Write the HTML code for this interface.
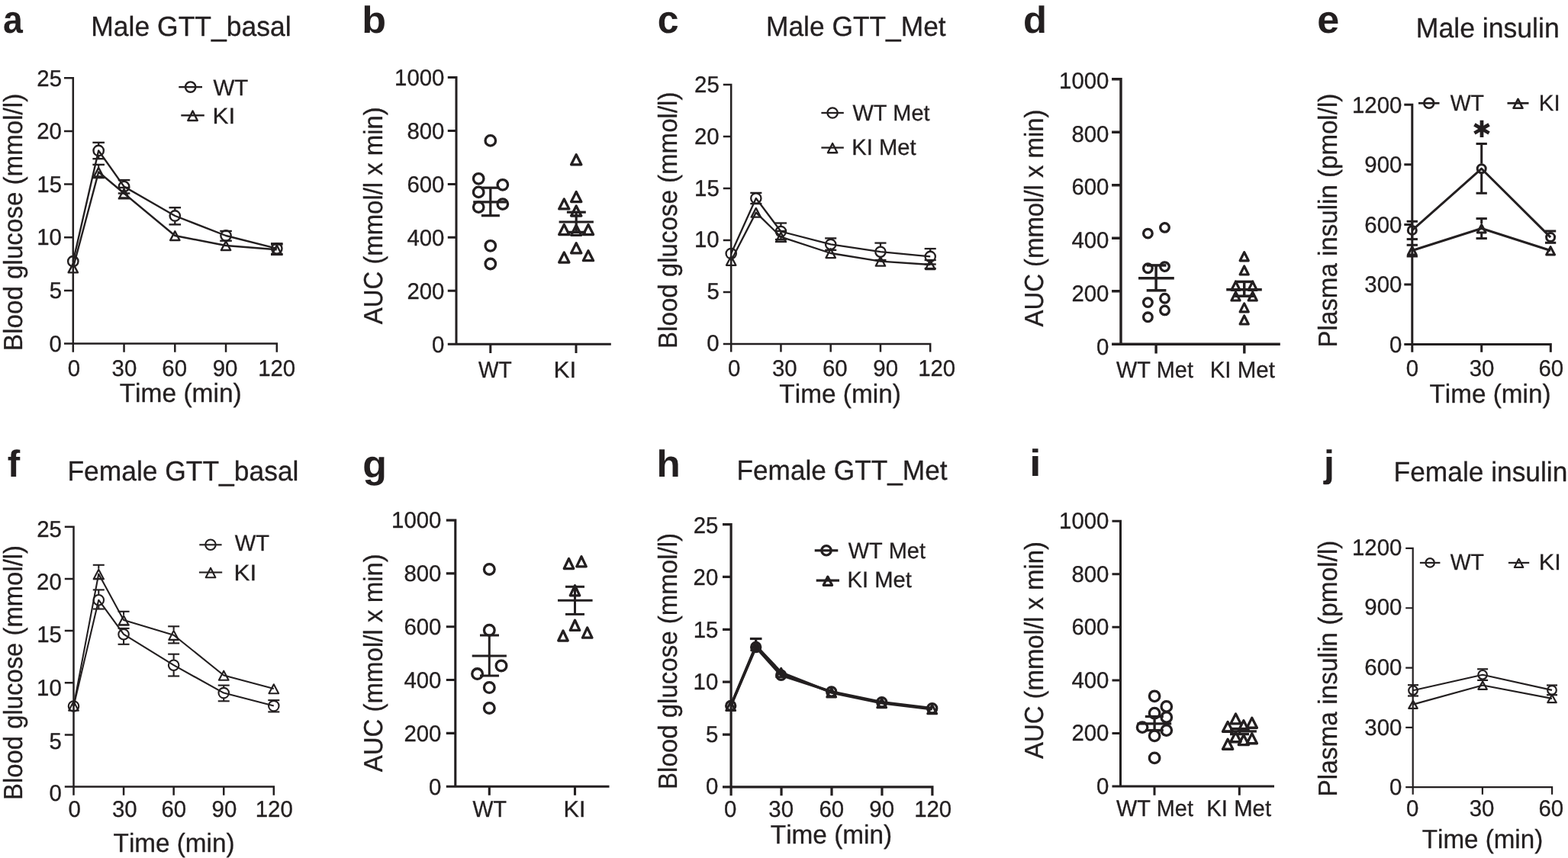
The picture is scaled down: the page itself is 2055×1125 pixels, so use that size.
<!DOCTYPE html>
<html lang="en">
<head>
<meta charset="utf-8">
<title>GTT and insulin in WT and KI mice</title>
<style>
html,body{margin:0;padding:0;background:#fff}
body{width:2055px;height:1125px;overflow:hidden}
svg{display:block}
svg text{font-family:"Liberation Sans",sans-serif;fill:#231f20;stroke:#231f20;stroke-width:.32px;stroke-linejoin:round;font-kerning:none;white-space:pre}
svg text[font-weight=bold]{stroke-width:0}
svg path,svg circle{fill:none;stroke:#231f20;stroke-linecap:butt}
svg path.t{stroke-linejoin:round}
</style>
</head>
<body>
<svg width="2055" height="1125" viewBox="0 0 2055 1125" text-rendering="geometricPrecision">
<rect width="2055" height="1125" fill="#fff" stroke="none"/>
<g id="panel-a">
<text transform="translate(5.4 42.8) scale(0.9192 1)" x="-1.48" y="0" font-size="50.6" font-weight="bold">a</text>
<text transform="translate(122.1 46.6) scale(0.9783 1)" x="-2.98" y="0" font-size="36.3">Male GTT_basal</text>
<path d="M84 102.3H95.8V461.7M84 171.96H95.8M84 241.62H95.8M84 311.28H95.8M84 380.94H95.8M84 450.6H362.8V461.7M162.55 450.6V461.7M229.3 450.6V461.7M296.05 450.6V461.7" stroke-width="2.5" stroke-linejoin="miter"/>
<text transform="translate(49.81 112.7) scale(0.9800 1)" x="-1.51" y="0" font-size="30">25</text>
<text transform="translate(49.73 182.28) scale(0.9800 1)" x="-1.51" y="0" font-size="30">20</text>
<text transform="translate(50.57 251.86) scale(0.9800 1)" x="-2.29" y="0" font-size="30">15</text>
<text transform="translate(50.49 321.44) scale(0.9800 1)" x="-2.29" y="0" font-size="30">10</text>
<text transform="translate(65.86 391.02) scale(0.9800 1)" x="-1.2" y="0" font-size="30">5</text>
<text transform="translate(65.75 460.6) scale(0.9800 1)" x="-1.17" y="0" font-size="30">0</text>
<text transform="translate(89.77 492.5) scale(0.9800 1)" x="-1.17" y="0" font-size="30">0</text>
<text transform="translate(147.68 492.5) scale(0.9800 1)" x="-1.14" y="0" font-size="30">30</text>
<text transform="translate(213.77 492.5) scale(0.9800 1)" x="-1.52" y="0" font-size="30">60</text>
<text transform="translate(280.01 492.5) scale(0.9800 1)" x="-1.41" y="0" font-size="30">90</text>
<text transform="translate(340.37 492.5) scale(0.9800 1)" x="-2.29" y="0" font-size="30">120</text>
<text transform="translate(157.4 527.2) scale(0.9688 1)" x="-0.78" y="0" font-size="34.6">Time (min)</text>
<text transform="translate(29.4 457.2) rotate(-90) scale(0.9587 1)" x="-2.84" y="0" font-size="34.6">Blood glucose (mmol/l)</text>
<path d="M129.18 186.9V190.1" stroke-width="2.4"/>
<path d="M121.38 186.9H136.98" stroke-width="2.4"/>
<path d="M129.18 204.9V208.2" stroke-width="2.4"/>
<path d="M121.38 208.2H136.98" stroke-width="2.4"/>
<path d="M162.55 236.1V237.2" stroke-width="2.4"/>
<path d="M154.75 236.1H170.35" stroke-width="2.4"/>
<path d="M162.55 252V253.5" stroke-width="2.4"/>
<path d="M154.75 253.5H170.35" stroke-width="2.4"/>
<path d="M229.3 272.2V275.6" stroke-width="2.4"/>
<path d="M221.5 272.2H237.1" stroke-width="2.4"/>
<path d="M229.3 290.4V294.4" stroke-width="2.4"/>
<path d="M221.5 294.4H237.1" stroke-width="2.4"/>
<path d="M288.25 303H303.85" stroke-width="2.4"/>
<path d="M288.25 315.7H303.85" stroke-width="2.4"/>
<path d="M355 319.3H370.6" stroke-width="2.4"/>
<path d="M355 333H370.6" stroke-width="2.4"/>
<circle cx="95.8" cy="342.7" r="6.7" stroke-width="2.4"/>
<circle cx="129.18" cy="197.5" r="6.7" stroke-width="2.4"/>
<circle cx="162.55" cy="244.6" r="6.7" stroke-width="2.4"/>
<circle cx="229.3" cy="283" r="6.7" stroke-width="2.4"/>
<circle cx="296.05" cy="309" r="6.7" stroke-width="2.4"/>
<circle cx="362.8" cy="325.9" r="6.7" stroke-width="2.4"/>
<path d="M95.8 342.7L129.18 197.5L162.55 244.6L229.3 283L296.05 309L362.8 325.9" stroke-width="2.4" stroke-linejoin="round"/>
<path d="M129.18 215.9V218.75" stroke-width="2.4"/>
<path d="M121.38 215.9H136.98" stroke-width="2.4"/>
<path d="M129.18 232.25V233.1" stroke-width="2.4"/>
<path d="M121.38 233.1H136.98" stroke-width="2.4"/>
<path d="M162.55 246V246.75" stroke-width="2.4"/>
<path d="M154.75 246H170.35" stroke-width="2.4"/>
<path d="M162.55 260.25V260.3" stroke-width="2.4"/>
<path d="M154.75 260.3H170.35" stroke-width="2.4"/>
<path d="M362.8 320.5V320.55" stroke-width="2.4"/>
<path d="M355 320.5H370.6" stroke-width="2.4"/>
<path d="M355 333.9H370.6" stroke-width="2.4"/>
<path class="t" d="M95.8 345.67L101.95 357.35L89.65 357.35Z" stroke-width="2.4"/>
<path class="t" d="M129.18 219.87L135.33 231.55L123.03 231.55Z" stroke-width="2.4"/>
<path class="t" d="M162.55 247.87L168.7 259.55L156.4 259.55Z" stroke-width="2.4"/>
<path class="t" d="M229.3 303.37L235.45 315.05L223.15 315.05Z" stroke-width="2.4"/>
<path class="t" d="M296.05 316.37L302.2 328.05L289.9 328.05Z" stroke-width="2.4"/>
<path class="t" d="M362.8 321.67L368.95 333.35L356.65 333.35Z" stroke-width="2.4"/>
<path d="M95.8 351.3L129.18 225.5L162.55 253.5L229.3 309L296.05 322L362.8 327.3" stroke-width="2.4" stroke-linejoin="round"/>
<path d="M234.3 114.1H265" stroke-width="2.4"/>
<circle cx="249.65" cy="114.1" r="6.7" stroke-width="2.4"/>
<text transform="translate(279.5 125.3) scale(0.9987 1)" x="-0.13" y="0" font-size="29.5">WT</text>
<path d="M237.3 151.3H267.8" stroke-width="2.4"/>
<path class="t" d="M252.55 145.62L258.8 158L246.3 158Z" stroke-width="2.4"/>
<text transform="translate(281 162.1) scale(1.0647 1)" x="-2.42" y="0" font-size="29.5">KI</text>
</g>
<g id="panel-b">
<text transform="translate(477.8 42.7) scale(1.0546 1)" x="-3.25" y="0" font-size="49.3" font-weight="bold">b</text>
<path d="M586.8 101.5H598V451.2M586.8 171.44H598M586.8 241.38H598M586.8 311.32H598M586.8 381.26H598M586.8 451.2H800.8M642.8 451.2V462.9M755 451.2V462.9" stroke-width="3" stroke-linejoin="miter"/>
<text transform="translate(519.28 112.4) scale(0.9800 1)" x="-2.29" y="0" font-size="30">1000</text>
<text transform="translate(534.67 182.4) scale(0.9800 1)" x="-1.3" y="0" font-size="30">800</text>
<text transform="translate(534.89 252.4) scale(0.9800 1)" x="-1.52" y="0" font-size="30">600</text>
<text transform="translate(534.07 322.4) scale(0.9800 1)" x="-0.69" y="0" font-size="30">400</text>
<text transform="translate(534.87 392.4) scale(0.9800 1)" x="-1.51" y="0" font-size="30">200</text>
<text transform="translate(567.25 462.4) scale(0.9800 1)" x="-1.17" y="0" font-size="30">0</text>
<text transform="translate(627.1 494.5) scale(0.9406 1)" x="-0.13" y="0" font-size="30">WT</text>
<text transform="translate(728.1 494.5) scale(1.0469 1)" x="-2.46" y="0" font-size="30">KI</text>
<text transform="translate(501 425.1) rotate(-90) scale(0.9508 1)" x="-0.07" y="0" font-size="34.6">AUC (mmol/l x min)</text>
<path d="M620.2 264.8H663.8" stroke-width="3.2"/>
<path d="M642.8 246.2V282.7" stroke-width="3.2"/>
<path d="M630.9 246.2H654.9" stroke-width="3.2"/>
<path d="M630.9 282.7H654.9" stroke-width="3.2"/>
<circle cx="642.8" cy="184.4" r="6.75" stroke-width="3.3"/>
<circle cx="627.2" cy="234.3" r="6.75" stroke-width="3.3"/>
<circle cx="658.8" cy="242.3" r="6.75" stroke-width="3.3"/>
<circle cx="627.2" cy="251.9" r="6.75" stroke-width="3.3"/>
<circle cx="658.8" cy="267.6" r="6.75" stroke-width="3.3"/>
<circle cx="627.2" cy="271.6" r="6.75" stroke-width="3.3"/>
<circle cx="642.8" cy="322.3" r="6.75" stroke-width="3.3"/>
<circle cx="642.8" cy="346" r="6.75" stroke-width="3.3"/>
<path d="M732.6 291H777.9" stroke-width="3.2"/>
<path d="M755.2 278.2V304.4" stroke-width="3.2"/>
<path d="M742.9 278.2H767.8" stroke-width="3.2"/>
<path d="M742.9 304.4H767.8" stroke-width="3.2"/>
<path class="t" d="M755.2 202.78L761.79 215.8L748.61 215.8Z" stroke-width="3.3"/>
<path class="t" d="M755.2 251.58L761.79 264.6L748.61 264.6Z" stroke-width="3.3"/>
<path class="t" d="M739.3 260.88L745.89 273.9L732.71 273.9Z" stroke-width="3.3"/>
<path class="t" d="M755.2 269.98L761.79 283L748.61 283Z" stroke-width="3.3"/>
<path class="t" d="M739.3 294.58L745.89 307.6L732.71 307.6Z" stroke-width="3.3"/>
<path class="t" d="M755.2 295.28L761.79 308.3L748.61 308.3Z" stroke-width="3.3"/>
<path class="t" d="M771 294.58L777.59 307.6L764.41 307.6Z" stroke-width="3.3"/>
<path class="t" d="M755.2 318.78L761.79 331.8L748.61 331.8Z" stroke-width="3.3"/>
<path class="t" d="M739.3 331.08L745.89 344.1L732.71 344.1Z" stroke-width="3.3"/>
<path class="t" d="M771 328.68L777.59 341.7L764.41 341.7Z" stroke-width="3.3"/>
</g>
<g id="panel-c">
<text transform="translate(863.7 42.8) scale(0.9886 1)" x="-1.98" y="0" font-size="50.6" font-weight="bold">c</text>
<text transform="translate(1006.9 46.5) scale(0.9736 1)" x="-2.98" y="0" font-size="36.3">Male GTT_Met</text>
<path d="M947.8 110.9H958.2V461.6M947.8 178.92H958.2M947.8 246.94H958.2M947.8 314.96H958.2M947.8 382.98H958.2M947.8 451H1219.2V461.6M1023.45 451V461.6M1088.7 451V461.6M1153.95 451V461.6" stroke-width="2.5" stroke-linejoin="miter"/>
<text transform="translate(911.51 121.2) scale(0.9800 1)" x="-1.51" y="0" font-size="30">25</text>
<text transform="translate(911.43 188.96) scale(0.9800 1)" x="-1.51" y="0" font-size="30">20</text>
<text transform="translate(912.27 256.72) scale(0.9800 1)" x="-2.29" y="0" font-size="30">15</text>
<text transform="translate(912.19 324.48) scale(0.9800 1)" x="-2.29" y="0" font-size="30">10</text>
<text transform="translate(927.56 392.24) scale(0.9800 1)" x="-1.2" y="0" font-size="30">5</text>
<text transform="translate(927.45 460) scale(0.9800 1)" x="-1.17" y="0" font-size="30">0</text>
<text transform="translate(955.07 493) scale(0.9800 1)" x="-1.17" y="0" font-size="30">0</text>
<text transform="translate(1013.08 493) scale(0.9800 1)" x="-1.14" y="0" font-size="30">30</text>
<text transform="translate(1079.47 493) scale(0.9800 1)" x="-1.52" y="0" font-size="30">60</text>
<text transform="translate(1145.71 493) scale(0.9800 1)" x="-1.41" y="0" font-size="30">90</text>
<text transform="translate(1205.37 493) scale(0.9800 1)" x="-2.29" y="0" font-size="30">120</text>
<text transform="translate(1022.1 527.7) scale(0.9657 1)" x="-0.78" y="0" font-size="34.6">Time (min)</text>
<text transform="translate(887.3 454.2) rotate(-90) scale(0.9564 1)" x="-2.84" y="0" font-size="34.6">Blood glucose (mmol/l)</text>
<path d="M983.28 252.9H998.38" stroke-width="2.3"/>
<path d="M983.28 267.1H998.38" stroke-width="2.3"/>
<path d="M1023.45 292.5V296.2" stroke-width="2.3"/>
<path d="M1015.9 292.5H1031" stroke-width="2.3"/>
<path d="M1023.45 310.8V314" stroke-width="2.3"/>
<path d="M1015.9 314H1031" stroke-width="2.3"/>
<path d="M1088.7 312.4V313.1" stroke-width="2.3"/>
<path d="M1081.15 312.4H1096.25" stroke-width="2.3"/>
<path d="M1088.7 327.7V327.9" stroke-width="2.3"/>
<path d="M1081.15 327.9H1096.25" stroke-width="2.3"/>
<path d="M1153.95 318.6V322.9" stroke-width="2.3"/>
<path d="M1146.4 318.6H1161.5" stroke-width="2.3"/>
<path d="M1153.95 337.5V341" stroke-width="2.3"/>
<path d="M1146.4 341H1161.5" stroke-width="2.3"/>
<path d="M1219.2 326.1V329.1" stroke-width="2.3"/>
<path d="M1211.65 326.1H1226.75" stroke-width="2.3"/>
<path d="M1219.2 343.7V346.5" stroke-width="2.3"/>
<path d="M1211.65 346.5H1226.75" stroke-width="2.3"/>
<circle cx="958.2" cy="332.5" r="6.65" stroke-width="2.3"/>
<circle cx="990.83" cy="260" r="6.65" stroke-width="2.3"/>
<circle cx="1023.45" cy="303.5" r="6.65" stroke-width="2.3"/>
<circle cx="1088.7" cy="320.4" r="6.65" stroke-width="2.3"/>
<circle cx="1153.95" cy="330.2" r="6.65" stroke-width="2.3"/>
<circle cx="1219.2" cy="336.4" r="6.65" stroke-width="2.3"/>
<path d="M958.2 332.5L990.83 260L1023.45 303.5L1088.7 320.4L1153.95 330.2L1219.2 336.4" stroke-width="2.3" stroke-linejoin="round"/>
<path d="M1023.45 303V303.85" stroke-width="2.3"/>
<path d="M1015.9 303H1031" stroke-width="2.3"/>
<path d="M1015.9 317H1031" stroke-width="2.3"/>
<path d="M1211.65 341H1226.75" stroke-width="2.3"/>
<path d="M1211.65 352H1226.75" stroke-width="2.3"/>
<path class="t" d="M958.2 336L964.41 347.8L951.99 347.8Z" stroke-width="2.3"/>
<path class="t" d="M990.83 272.9L997.04 284.7L984.61 284.7Z" stroke-width="2.3"/>
<path class="t" d="M1023.45 304.9L1029.66 316.7L1017.24 316.7Z" stroke-width="2.3"/>
<path class="t" d="M1088.7 326.3L1094.91 338.1L1082.49 338.1Z" stroke-width="2.3"/>
<path class="t" d="M1153.95 336.9L1160.16 348.7L1147.74 348.7Z" stroke-width="2.3"/>
<path class="t" d="M1219.2 341.3L1225.41 353.1L1212.99 353.1Z" stroke-width="2.3"/>
<path d="M958.2 341.7L990.83 278.6L1023.45 310.6L1088.7 332L1153.95 342.6L1219.2 347" stroke-width="2.3" stroke-linejoin="round"/>
<path d="M1076.4 148H1105.8" stroke-width="2.3"/>
<circle cx="1091.1" cy="148" r="6.65" stroke-width="2.3"/>
<text transform="translate(1117.5 157.5) scale(0.9797 1)" x="-0.13" y="0" font-size="29.5">WT Met</text>
<path d="M1076.4 193.6H1105.8" stroke-width="2.3"/>
<path class="t" d="M1091.1 187.95L1097.31 200.25L1084.89 200.25Z" stroke-width="2.3"/>
<text transform="translate(1118.7 202.8) scale(0.9878 1)" x="-2.42" y="0" font-size="29.5">KI Met</text>
</g>
<g id="panel-d">
<text transform="translate(1343.2 42.7) scale(1.0305 1)" x="-2.02" y="0" font-size="49.3" font-weight="bold">d</text>
<path d="M1457.1 103.7H1469V451.3M1457.1 173.22H1469M1457.1 242.74H1469M1457.1 312.26H1469M1457.1 381.78H1469M1457.1 451.3H1677.8M1515.1 451.3V463.4M1630.8 451.3V463.4" stroke-width="3.4" stroke-linejoin="miter"/>
<text transform="translate(1390.28 115.9) scale(0.9800 1)" x="-2.29" y="0" font-size="30">1000</text>
<text transform="translate(1405.67 185.62) scale(0.9800 1)" x="-1.3" y="0" font-size="30">800</text>
<text transform="translate(1405.89 255.34) scale(0.9800 1)" x="-1.52" y="0" font-size="30">600</text>
<text transform="translate(1405.07 325.06) scale(0.9800 1)" x="-0.69" y="0" font-size="30">400</text>
<text transform="translate(1405.87 394.78) scale(0.9800 1)" x="-1.51" y="0" font-size="30">200</text>
<text transform="translate(1438.25 464.5) scale(0.9800 1)" x="-1.17" y="0" font-size="30">0</text>
<text transform="translate(1463 494.5) scale(0.9624 1)" x="-0.13" y="0" font-size="30">WT Met</text>
<text transform="translate(1588.1 494.5) scale(0.9832 1)" x="-2.46" y="0" font-size="30">KI Met</text>
<text transform="translate(1366.7 428.5) rotate(-90) scale(0.9515 1)" x="-0.07" y="0" font-size="34.6">AUC (mmol/l x min)</text>
<path d="M1492 364.8H1538.8" stroke-width="3.5"/>
<path d="M1515.1 347.9V380.8" stroke-width="3.5"/>
<path d="M1502.7 347.9H1528.4" stroke-width="3.5"/>
<path d="M1502.7 380.8H1528.4" stroke-width="3.5"/>
<circle cx="1504.4" cy="306.1" r="5.8" stroke-width="3.3"/>
<circle cx="1526.5" cy="298.4" r="5.8" stroke-width="3.3"/>
<circle cx="1504.4" cy="351.8" r="5.8" stroke-width="3.3"/>
<circle cx="1526.5" cy="349.6" r="5.8" stroke-width="3.3"/>
<circle cx="1526.5" cy="391.2" r="5.8" stroke-width="3.3"/>
<circle cx="1504.4" cy="396.6" r="5.8" stroke-width="3.3"/>
<circle cx="1526.5" cy="406.9" r="5.8" stroke-width="3.3"/>
<circle cx="1504.4" cy="415.8" r="5.8" stroke-width="3.3"/>
<path d="M1607.2 379.8H1653.8" stroke-width="3.5"/>
<path d="M1630.7 369.4V388.2" stroke-width="3.5"/>
<path d="M1618.2 369.4H1643.1" stroke-width="3.5"/>
<path d="M1618.2 388.2H1643.1" stroke-width="3.5"/>
<path class="t" d="M1630.7 330.76L1636.25 341.8L1625.15 341.8Z" stroke-width="3.2"/>
<path class="t" d="M1630.7 348.96L1636.25 360L1625.15 360Z" stroke-width="3.2"/>
<path class="t" d="M1619.5 369.26L1625.05 380.3L1613.95 380.3Z" stroke-width="3.2"/>
<path class="t" d="M1641.7 369.26L1647.25 380.3L1636.15 380.3Z" stroke-width="3.2"/>
<path class="t" d="M1619.5 382.96L1625.05 394L1613.95 394Z" stroke-width="3.2"/>
<path class="t" d="M1641.7 382.96L1647.25 394L1636.15 394Z" stroke-width="3.2"/>
<path class="t" d="M1630.7 397.86L1636.25 408.9L1625.15 408.9Z" stroke-width="3.2"/>
<path class="t" d="M1630.7 413.96L1636.25 425L1625.15 425Z" stroke-width="3.2"/>
</g>
<g id="panel-e">
<text transform="translate(1728.2 42.7) scale(1.0313 1)" x="-1.98" y="0" font-size="50.6" font-weight="bold">e</text>
<text transform="translate(1858.7 49.1) scale(0.9805 1)" x="-2.98" y="0" font-size="36.3">Male insulin</text>
<path d="M1840.3 137.3H1850.8V461.8M1840.3 215.85H1850.8M1840.3 294.4H1850.8M1840.3 372.95H1850.8M1840.3 451.5H2032.3V461.8M1941.7 451.5V461.8" stroke-width="3" stroke-linejoin="miter"/>
<text transform="translate(1774.18 147.7) scale(0.9800 1)" x="-2.29" y="0" font-size="30">1200</text>
<text transform="translate(1789.67 226.23) scale(0.9800 1)" x="-1.41" y="0" font-size="30">900</text>
<text transform="translate(1789.79 304.75) scale(0.9800 1)" x="-1.52" y="0" font-size="30">600</text>
<text transform="translate(1789.42 383.27) scale(0.9800 1)" x="-1.14" y="0" font-size="30">300</text>
<text transform="translate(1822.15 461.8) scale(0.9800 1)" x="-1.17" y="0" font-size="30">0</text>
<text transform="translate(1843.97 492.5) scale(0.9800 1)" x="-1.17" y="0" font-size="30">0</text>
<text transform="translate(1926.78 492.5) scale(0.9800 1)" x="-1.14" y="0" font-size="30">30</text>
<text transform="translate(2017.97 492.5) scale(0.9800 1)" x="-1.52" y="0" font-size="30">60</text>
<text transform="translate(1874.2 527.5) scale(0.9632 1)" x="-0.78" y="0" font-size="34.6">Time (min)</text>
<text transform="translate(1752 452.8) rotate(-90) scale(0.9567 1)" x="-2.84" y="0" font-size="34.6">Plasma insulin (pmol/l)</text>
<path d="M1850.8 290.3V295.4" stroke-width="3"/>
<path d="M1843.65 290.3H1857.95" stroke-width="3"/>
<path d="M1850.8 308.4V313.6" stroke-width="3"/>
<path d="M1843.65 313.6H1857.95" stroke-width="3"/>
<path d="M1941.7 188.5V214.7" stroke-width="3"/>
<path d="M1934.55 188.5H1948.85" stroke-width="3"/>
<path d="M1941.7 227.7V253.3" stroke-width="3"/>
<path d="M1934.55 253.3H1948.85" stroke-width="3"/>
<path d="M2032.1 303V304.6" stroke-width="3"/>
<path d="M2024.95 303H2039.25" stroke-width="3"/>
<path d="M2032.1 317.6V318.3" stroke-width="3"/>
<path d="M2024.95 318.3H2039.25" stroke-width="3"/>
<circle cx="1850.8" cy="301.9" r="5.5" stroke-width="3"/>
<circle cx="1941.7" cy="221.2" r="5.5" stroke-width="3"/>
<circle cx="2032.1" cy="311.1" r="5.5" stroke-width="3"/>
<path d="M1850.8 301.9L1941.7 221.2L2032.1 311.1" stroke-width="3" stroke-linejoin="round"/>
<path d="M1850.8 321.3V322.1" stroke-width="3"/>
<path d="M1843.65 321.3H1857.95" stroke-width="3"/>
<path d="M1850.8 334.9V336" stroke-width="3"/>
<path d="M1843.65 336H1857.95" stroke-width="3"/>
<path d="M1941.7 286.6V293.1" stroke-width="3"/>
<path d="M1934.55 286.6H1948.85" stroke-width="3"/>
<path d="M1941.7 305.9V312.6" stroke-width="3"/>
<path d="M1934.55 312.6H1948.85" stroke-width="3"/>
<path class="t" d="M1850.8 323.62L1856.22 333.9L1845.38 333.9Z" stroke-width="3"/>
<path class="t" d="M1941.7 294.62L1947.12 304.9L1936.28 304.9Z" stroke-width="3"/>
<path class="t" d="M2032.1 323.62L2037.52 333.9L2026.67 333.9Z" stroke-width="3"/>
<path d="M1850.8 328.5L1941.7 299.5L2032.1 328.5" stroke-width="3" stroke-linejoin="round"/>
<path d="M1859 135.3H1886.5" stroke-width="2.7"/>
<circle cx="1872.75" cy="135.3" r="6.45" stroke-width="2.7"/>
<text transform="translate(1900.8 145) scale(0.9655 1)" x="-0.13" y="0" font-size="29.5">WT</text>
<path d="M1975.5 135.3H2003.5" stroke-width="2.7"/>
<path class="t" d="M1989.5 129.92L1995.46 141.75L1983.54 141.75Z" stroke-width="2.7"/>
<text transform="translate(2019.2 145) scale(1.0000 1)" x="-2.42" y="0" font-size="29.5">KI</text>
<text x="1929.26" y="180.1" font-size="30.4" style="font-family:'DejaVu Sans',sans-serif;stroke-width:0">✱</text>
</g>
<g id="panel-f">
<text transform="translate(10.6 624.7) scale(1.0018 1)" x="-0.84" y="0" font-size="49.3" font-weight="bold">f</text>
<text transform="translate(91.3 629.7) scale(0.9755 1)" x="-2.98" y="0" font-size="36.3">Female GTT_basal</text>
<path d="M84.8 690.7H96.5V1042.8M84.8 758.88H96.5M84.8 827.06H96.5M84.8 895.24H96.5M84.8 963.42H96.5M84.8 1031.6H358.8V1042.8M162.07 1031.6V1042.8M227.65 1031.6V1042.8M293.23 1031.6V1042.8" stroke-width="2.5" stroke-linejoin="miter"/>
<text transform="translate(49.61 703.8) scale(0.9800 1)" x="-1.51" y="0" font-size="30">25</text>
<text transform="translate(49.53 773.08) scale(0.9800 1)" x="-1.51" y="0" font-size="30">20</text>
<text transform="translate(50.37 842.36) scale(0.9800 1)" x="-2.29" y="0" font-size="30">15</text>
<text transform="translate(50.29 911.64) scale(0.9800 1)" x="-2.29" y="0" font-size="30">10</text>
<text transform="translate(65.66 981.82) scale(0.9800 1)" x="-1.2" y="0" font-size="30">5</text>
<text transform="translate(65.55 1049.9) scale(0.9800 1)" x="-1.17" y="0" font-size="30">0</text>
<text transform="translate(90.67 1071) scale(0.9800 1)" x="-1.17" y="0" font-size="30">0</text>
<text transform="translate(147.98 1071) scale(0.9800 1)" x="-1.14" y="0" font-size="30">30</text>
<text transform="translate(212.87 1071) scale(0.9800 1)" x="-1.52" y="0" font-size="30">60</text>
<text transform="translate(278.91 1071) scale(0.9800 1)" x="-1.41" y="0" font-size="30">90</text>
<text transform="translate(336.97 1071) scale(0.9800 1)" x="-2.29" y="0" font-size="30">120</text>
<text transform="translate(149.3 1116.7) scale(0.9620 1)" x="-0.78" y="0" font-size="34.6">Time (min)</text>
<text transform="translate(29.4 1046.3) rotate(-90) scale(0.9498 1)" x="-2.84" y="0" font-size="34.6">Blood glucose (mmol/l)</text>
<path d="M129.29 773.4V779.4" stroke-width="2.1"/>
<path d="M121.79 773.4H136.79" stroke-width="2.1"/>
<path d="M129.29 794V798.5" stroke-width="2.1"/>
<path d="M121.79 798.5H136.79" stroke-width="2.1"/>
<path d="M162.07 823.9V824.4" stroke-width="2.1"/>
<path d="M154.57 823.9H169.57" stroke-width="2.1"/>
<path d="M162.07 839V844.8" stroke-width="2.1"/>
<path d="M154.57 844.8H169.57" stroke-width="2.1"/>
<path d="M227.65 857.7V864.9" stroke-width="2.1"/>
<path d="M220.15 857.7H235.15" stroke-width="2.1"/>
<path d="M227.65 879.5V886.5" stroke-width="2.1"/>
<path d="M220.15 886.5H235.15" stroke-width="2.1"/>
<path d="M293.23 898.6V901.3" stroke-width="2.1"/>
<path d="M285.73 898.6H300.73" stroke-width="2.1"/>
<path d="M293.23 915.9V919.3" stroke-width="2.1"/>
<path d="M285.73 919.3H300.73" stroke-width="2.1"/>
<path d="M358.8 918.1V918.3" stroke-width="2.1"/>
<path d="M351.3 918.1H366.3" stroke-width="2.1"/>
<path d="M358.8 932.9V933.4" stroke-width="2.1"/>
<path d="M351.3 933.4H366.3" stroke-width="2.1"/>
<circle cx="96.5" cy="926" r="6.75" stroke-width="2.1"/>
<circle cx="129.29" cy="786.7" r="6.75" stroke-width="2.1"/>
<circle cx="162.07" cy="831.7" r="6.75" stroke-width="2.1"/>
<circle cx="227.65" cy="872.2" r="6.75" stroke-width="2.1"/>
<circle cx="293.23" cy="908.6" r="6.75" stroke-width="2.1"/>
<circle cx="358.8" cy="925.6" r="6.75" stroke-width="2.1"/>
<path d="M96.5 926L129.29 786.7L162.07 831.7L227.65 872.2L293.23 908.6L358.8 925.6" stroke-width="2.1" stroke-linejoin="round"/>
<path d="M129.29 740.8V745.75" stroke-width="2.1"/>
<path d="M121.79 740.8H136.79" stroke-width="2.1"/>
<path d="M129.29 759.25V759.3" stroke-width="2.1"/>
<path d="M121.79 759.3H136.79" stroke-width="2.1"/>
<path d="M162.07 801.8V806.35" stroke-width="2.1"/>
<path d="M154.57 801.8H169.57" stroke-width="2.1"/>
<path d="M154.57 819.6H169.57" stroke-width="2.1"/>
<path d="M227.65 821.3V825.95" stroke-width="2.1"/>
<path d="M220.15 821.3H235.15" stroke-width="2.1"/>
<path d="M227.65 839.45V843.4" stroke-width="2.1"/>
<path d="M220.15 843.4H235.15" stroke-width="2.1"/>
<path class="t" d="M96.5 919.77L102.84 931.8L90.16 931.8Z" stroke-width="2.1"/>
<path class="t" d="M129.29 746.67L135.62 758.7L122.95 758.7Z" stroke-width="2.1"/>
<path class="t" d="M162.07 807.27L168.41 819.3L155.74 819.3Z" stroke-width="2.1"/>
<path class="t" d="M227.65 826.87L233.99 838.9L221.31 838.9Z" stroke-width="2.1"/>
<path class="t" d="M293.23 879.67L299.56 891.7L286.89 891.7Z" stroke-width="2.1"/>
<path class="t" d="M358.8 897.27L365.14 909.3L352.46 909.3Z" stroke-width="2.1"/>
<path d="M96.5 925.6L129.29 752.5L162.07 813.1L227.65 832.7L293.23 885.5L358.8 903.1" stroke-width="2.1" stroke-linejoin="round"/>
<path d="M261.3 714.3H290.6" stroke-width="2.1"/>
<circle cx="275.95" cy="714.3" r="6.75" stroke-width="2.1"/>
<text transform="translate(307.8 721.6) scale(0.9876 1)" x="-0.13" y="0" font-size="29.5">WT</text>
<path d="M260.9 750.5H291.2" stroke-width="2.1"/>
<path class="t" d="M276.05 744.72L282.39 757.25L269.71 757.25Z" stroke-width="2.1"/>
<text transform="translate(309 761.2) scale(1.0647 1)" x="-2.42" y="0" font-size="29.5">KI</text>
</g>
<g id="panel-g">
<text transform="translate(477.3 626) scale(1.0256 1)" x="-2.08" y="0" font-size="50.6" font-weight="bold">g</text>
<path d="M584.8 682.1H596.8V1031.2M584.8 751.92H596.8M584.8 821.74H596.8M584.8 891.56H596.8M584.8 961.38H596.8M584.8 1031.2H798.5M641.3 1031.2V1042.8M753.5 1031.2V1042.8" stroke-width="3.1" stroke-linejoin="miter"/>
<text transform="translate(515.28 692.1) scale(0.9800 1)" x="-2.29" y="0" font-size="30">1000</text>
<text transform="translate(530.67 762.04) scale(0.9800 1)" x="-1.3" y="0" font-size="30">800</text>
<text transform="translate(530.89 831.98) scale(0.9800 1)" x="-1.52" y="0" font-size="30">600</text>
<text transform="translate(530.07 901.92) scale(0.9800 1)" x="-0.69" y="0" font-size="30">400</text>
<text transform="translate(530.87 971.86) scale(0.9800 1)" x="-1.51" y="0" font-size="30">200</text>
<text transform="translate(563.25 1041.8) scale(0.9800 1)" x="-1.17" y="0" font-size="30">0</text>
<text transform="translate(619.6 1070.7) scale(0.9515 1)" x="-0.13" y="0" font-size="30">WT</text>
<text transform="translate(741.1 1070.7) scale(1.0210 1)" x="-2.46" y="0" font-size="30">KI</text>
<text transform="translate(501 1012.2) rotate(-90) scale(0.9548 1)" x="-0.07" y="0" font-size="34.6">AUC (mmol/l x min)</text>
<path d="M618.7 859.9H663.9" stroke-width="3"/>
<path d="M641.3 833V886" stroke-width="3"/>
<path d="M629 833H654" stroke-width="3"/>
<path d="M629 886H654" stroke-width="3"/>
<circle cx="641.3" cy="746.4" r="6.85" stroke-width="3.3"/>
<circle cx="641.3" cy="826.3" r="6.85" stroke-width="3.3"/>
<circle cx="657" cy="872.9" r="6.85" stroke-width="3.3"/>
<circle cx="625.6" cy="883.6" r="6.85" stroke-width="3.3"/>
<circle cx="641.3" cy="901.5" r="6.85" stroke-width="3.3"/>
<circle cx="641.3" cy="928.4" r="6.85" stroke-width="3.3"/>
<path d="M731 787.2H776.6" stroke-width="3"/>
<path d="M753.5 769.3V805.4" stroke-width="3"/>
<path d="M741 769.3H766" stroke-width="3"/>
<path d="M741 805.4H766" stroke-width="3"/>
<path class="t" d="M745.5 732.43L751.74 745.55L739.26 745.55Z" stroke-width="3.3"/>
<path class="t" d="M762 729.73L768.24 742.85L755.76 742.85Z" stroke-width="3.3"/>
<path class="t" d="M753.5 767.73L759.74 780.85L747.26 780.85Z" stroke-width="3.3"/>
<path class="t" d="M753.5 813.33L759.74 826.45L747.26 826.45Z" stroke-width="3.3"/>
<path class="t" d="M738 826.93L744.24 840.05L731.76 840.05Z" stroke-width="3.3"/>
<path class="t" d="M769.7 823.03L775.94 836.15L763.46 836.15Z" stroke-width="3.3"/>
</g>
<g id="panel-h">
<text transform="translate(864 625.2) scale(1.0375 1)" x="-3.44" y="0" font-size="49.3" font-weight="bold">h</text>
<text transform="translate(968.3 629.2) scale(0.9710 1)" x="-2.98" y="0" font-size="36.3">Female GTT_Met</text>
<path d="M947 687.6H958.1V1043.3M947 756.46H958.1M947 825.32H958.1M947 894.18H958.1M947 963.04H958.1M947 1031.9H1221.9V1043.3M1024.05 1031.9V1043.3M1090 1031.9V1043.3M1155.95 1031.9V1043.3" stroke-width="3.2" stroke-linejoin="miter"/>
<text transform="translate(910.11 698.7) scale(0.9800 1)" x="-1.51" y="0" font-size="30">25</text>
<text transform="translate(910.03 767.18) scale(0.9800 1)" x="-1.51" y="0" font-size="30">20</text>
<text transform="translate(910.87 835.66) scale(0.9800 1)" x="-2.29" y="0" font-size="30">15</text>
<text transform="translate(910.79 904.14) scale(0.9800 1)" x="-2.29" y="0" font-size="30">10</text>
<text transform="translate(926.16 972.62) scale(0.9800 1)" x="-1.2" y="0" font-size="30">5</text>
<text transform="translate(926.05 1041.1) scale(0.9800 1)" x="-1.17" y="0" font-size="30">0</text>
<text transform="translate(950.07 1071.1) scale(0.9800 1)" x="-1.17" y="0" font-size="30">0</text>
<text transform="translate(1008.38 1071.1) scale(0.9800 1)" x="-1.14" y="0" font-size="30">30</text>
<text transform="translate(1074.87 1071.1) scale(0.9800 1)" x="-1.52" y="0" font-size="30">60</text>
<text transform="translate(1140.71 1071.1) scale(0.9800 1)" x="-1.41" y="0" font-size="30">90</text>
<text transform="translate(1200.37 1071.1) scale(0.9800 1)" x="-2.29" y="0" font-size="30">120</text>
<text transform="translate(1010.5 1105.8) scale(0.9651 1)" x="-0.78" y="0" font-size="34.6">Time (min)</text>
<text transform="translate(887.3 1032.3) rotate(-90) scale(0.9556 1)" x="-2.84" y="0" font-size="34.6">Blood glucose (mmol/l)</text>
<path d="M990.7 837.5V841.3" stroke-width="3.2"/>
<path d="M982.9 837.5H998.5" stroke-width="3.2"/>
<circle cx="957.7" cy="925.4" r="6.1" stroke-width="3.2"/>
<circle cx="990.7" cy="848.5" r="6.1" stroke-width="3.2"/>
<circle cx="1023.7" cy="885.3" r="6.1" stroke-width="3.2"/>
<circle cx="1089.7" cy="906.9" r="6.1" stroke-width="3.2"/>
<circle cx="1155.7" cy="920.7" r="6.1" stroke-width="3.2"/>
<circle cx="1221.7" cy="928.8" r="6.1" stroke-width="3.2"/>
<path d="M957.7 925.4L990.7 848.5L1023.7 885.3L1089.7 906.9L1155.7 920.7L1221.7 928.8" stroke-width="3.6" stroke-linejoin="round"/>
<path class="t" d="M957.7 920.12L963.62 931.6L951.78 931.6Z" stroke-width="3"/>
<path class="t" d="M990.7 841.23L996.62 852.7L984.78 852.7Z" stroke-width="3"/>
<path class="t" d="M1023.7 876.32L1029.62 887.8L1017.78 887.8Z" stroke-width="3"/>
<path class="t" d="M1089.7 902.42L1095.62 913.9L1083.78 913.9Z" stroke-width="3"/>
<path class="t" d="M1155.7 916.23L1161.62 927.7L1149.78 927.7Z" stroke-width="3"/>
<path class="t" d="M1221.7 924.32L1227.62 935.8L1215.78 935.8Z" stroke-width="3"/>
<path d="M957.7 925.6L990.7 846.7L1023.7 881.8L1089.7 907.9L1155.7 921.7L1221.7 929.8" stroke-width="3.6" stroke-linejoin="round"/>
<path d="M1067.7 721.8H1098.3" stroke-width="3.2"/>
<circle cx="1083" cy="721.8" r="6.2" stroke-width="3.2"/>
<text transform="translate(1111.8 731.7) scale(0.9816 1)" x="-0.13" y="0" font-size="29.5">WT Met</text>
<path d="M1069.7 761.1H1100" stroke-width="3.2"/>
<path class="t" d="M1084.85 756.06L1090.5 767.3L1079.2 767.3Z" stroke-width="3.2"/>
<text transform="translate(1113 770.3) scale(0.9878 1)" x="-2.42" y="0" font-size="29.5">KI Met</text>
</g>
<g id="panel-i">
<text transform="translate(1353 624.2) scale(1.1088 1)" x="-3.44" y="0" font-size="49.3" font-weight="bold">i</text>
<path d="M1457.5 683.2H1468.5V1031M1457.5 752.76H1468.5M1457.5 822.32H1468.5M1457.5 891.88H1468.5M1457.5 961.44H1468.5M1457.5 1031H1670M1513 1031V1042.8M1624.3 1031V1042.8" stroke-width="3" stroke-linejoin="miter"/>
<text transform="translate(1390.28 693.1) scale(0.9800 1)" x="-2.29" y="0" font-size="30">1000</text>
<text transform="translate(1405.67 762.66) scale(0.9800 1)" x="-1.3" y="0" font-size="30">800</text>
<text transform="translate(1405.89 832.22) scale(0.9800 1)" x="-1.52" y="0" font-size="30">600</text>
<text transform="translate(1405.07 901.78) scale(0.9800 1)" x="-0.69" y="0" font-size="30">400</text>
<text transform="translate(1405.87 971.34) scale(0.9800 1)" x="-1.51" y="0" font-size="30">200</text>
<text transform="translate(1438.25 1040.9) scale(0.9800 1)" x="-1.17" y="0" font-size="30">0</text>
<text transform="translate(1463 1070.2) scale(0.9624 1)" x="-0.13" y="0" font-size="30">WT Met</text>
<text transform="translate(1583.7 1070.2) scale(0.9773 1)" x="-2.46" y="0" font-size="30">KI Met</text>
<text transform="translate(1366.7 995) rotate(-90) scale(0.9515 1)" x="-0.07" y="0" font-size="34.6">AUC (mmol/l x min)</text>
<path d="M1490.4 948.8H1535.2" stroke-width="3.3"/>
<path d="M1513.1 939.5V957.6" stroke-width="3.3"/>
<path d="M1500.8 939.5H1524.8" stroke-width="3.3"/>
<path d="M1500.8 957.6H1524.8" stroke-width="3.3"/>
<circle cx="1513.1" cy="912.8" r="6.75" stroke-width="3.3"/>
<circle cx="1528.8" cy="926.4" r="6.75" stroke-width="3.3"/>
<circle cx="1513.1" cy="935.2" r="6.75" stroke-width="3.3"/>
<circle cx="1528.8" cy="940.5" r="6.75" stroke-width="3.3"/>
<circle cx="1497.1" cy="953.6" r="6.75" stroke-width="3.3"/>
<circle cx="1528.8" cy="957.6" r="6.75" stroke-width="3.3"/>
<circle cx="1513.1" cy="964.8" r="6.75" stroke-width="3.3"/>
<circle cx="1513.1" cy="993.9" r="6.75" stroke-width="3.3"/>
<path d="M1602.4 958.9H1646.9" stroke-width="3.3"/>
<path d="M1624.6 955.5V962.6" stroke-width="3.3"/>
<path d="M1612 955.5H1637" stroke-width="3.3"/>
<path d="M1612 962.6H1637" stroke-width="3.3"/>
<path class="t" d="M1619.5 936.03L1626.14 948.95L1612.86 948.95Z" stroke-width="3.3"/>
<path class="t" d="M1640.8 941.33L1647.44 954.25L1634.16 954.25Z" stroke-width="3.3"/>
<path class="t" d="M1629.9 944.83L1636.54 957.75L1623.26 957.75Z" stroke-width="3.3"/>
<path class="t" d="M1609.1 946.43L1615.74 959.35L1602.46 959.35Z" stroke-width="3.3"/>
<path class="t" d="M1619.5 959.83L1626.14 972.75L1612.86 972.75Z" stroke-width="3.3"/>
<path class="t" d="M1640.8 961.83L1647.44 974.75L1634.16 974.75Z" stroke-width="3.3"/>
<path class="t" d="M1629.9 963.63L1636.54 976.55L1623.26 976.55Z" stroke-width="3.3"/>
<path class="t" d="M1609.1 969.33L1615.74 982.25L1602.46 982.25Z" stroke-width="3.3"/>
</g>
<g id="panel-j">
<text transform="translate(1734.3 625) scale(1.0181 1)" x="0.77" y="0" font-size="49.3" font-weight="bold">j</text>
<text transform="translate(1829.5 631) scale(0.9729 1)" x="-2.98" y="0" font-size="36.3">Female insulin</text>
<path d="M1842.2 718.9H1851.7V1041.8M1842.2 797.23H1851.7M1842.2 875.55H1851.7M1842.2 953.88H1851.7M1842.2 1032.2H2034.1V1041.8M1942.9 1032.2V1041.8" stroke-width="2.2" stroke-linejoin="miter"/>
<text transform="translate(1774.18 727.9) scale(0.9800 1)" x="-2.29" y="0" font-size="30">1200</text>
<text transform="translate(1789.67 806.45) scale(0.9800 1)" x="-1.41" y="0" font-size="30">900</text>
<text transform="translate(1789.79 885) scale(0.9800 1)" x="-1.52" y="0" font-size="30">600</text>
<text transform="translate(1789.42 963.55) scale(0.9800 1)" x="-1.14" y="0" font-size="30">300</text>
<text transform="translate(1822.15 1042.1) scale(0.9800 1)" x="-1.17" y="0" font-size="30">0</text>
<text transform="translate(1844.17 1070.3) scale(0.9800 1)" x="-1.17" y="0" font-size="30">0</text>
<text transform="translate(1926.78 1070.3) scale(0.9800 1)" x="-1.14" y="0" font-size="30">30</text>
<text transform="translate(2017.97 1070.3) scale(0.9800 1)" x="-1.52" y="0" font-size="30">60</text>
<text transform="translate(1864.5 1111.5) scale(0.9589 1)" x="-0.78" y="0" font-size="34.6">Time (min)</text>
<text transform="translate(1752.2 1041.7) rotate(-90) scale(0.9658 1)" x="-2.84" y="0" font-size="34.6">Plasma insulin (pmol/l)</text>
<path d="M1852 898.2V898.9" stroke-width="2.2"/>
<path d="M1845 898.2H1859" stroke-width="2.2"/>
<path d="M1852 911.7V912.5" stroke-width="2.2"/>
<path d="M1845 912.5H1859" stroke-width="2.2"/>
<path d="M1943.1 877.3V878.4" stroke-width="2.2"/>
<path d="M1936.1 877.3H1950.1" stroke-width="2.2"/>
<path d="M1943.1 891.2V891.9" stroke-width="2.2"/>
<path d="M1936.1 891.9H1950.1" stroke-width="2.2"/>
<path d="M2027 898.5H2041" stroke-width="2.2"/>
<path d="M2027 911.2H2041" stroke-width="2.2"/>
<circle cx="1852" cy="905.3" r="5.8" stroke-width="2.2"/>
<circle cx="1943.1" cy="884.8" r="5.8" stroke-width="2.2"/>
<circle cx="2034" cy="904.9" r="5.8" stroke-width="2.2"/>
<path d="M1852 905.3L1943.1 884.8L2034 904.9" stroke-width="2.2" stroke-linejoin="round"/>
<path class="t" d="M1852 918.69L1857.72 928.9L1846.28 928.9Z" stroke-width="2.2"/>
<path class="t" d="M1943.1 893.59L1948.82 903.8L1937.38 903.8Z" stroke-width="2.2"/>
<path class="t" d="M2034 910.99L2039.72 921.2L2028.28 921.2Z" stroke-width="2.2"/>
<path d="M1852 923.6L1943.1 898.5L2034 915.9" stroke-width="2.2" stroke-linejoin="round"/>
<path d="M1860.9 737.9H1887.4" stroke-width="2.2"/>
<circle cx="1874.15" cy="737.9" r="5.7" stroke-width="2.2"/>
<text transform="translate(1900.8 746.6) scale(0.9655 1)" x="-0.13" y="0" font-size="29.5">WT</text>
<path d="M1976.9 737.9H2004.2" stroke-width="2.2"/>
<path class="t" d="M1990.55 732.83L1996.28 743.95L1984.83 743.95Z" stroke-width="2.2"/>
<text transform="translate(2019.2 746.6) scale(1.0383 1)" x="-2.42" y="0" font-size="29.5">KI</text>
</g>
</svg>
</body>
</html>
